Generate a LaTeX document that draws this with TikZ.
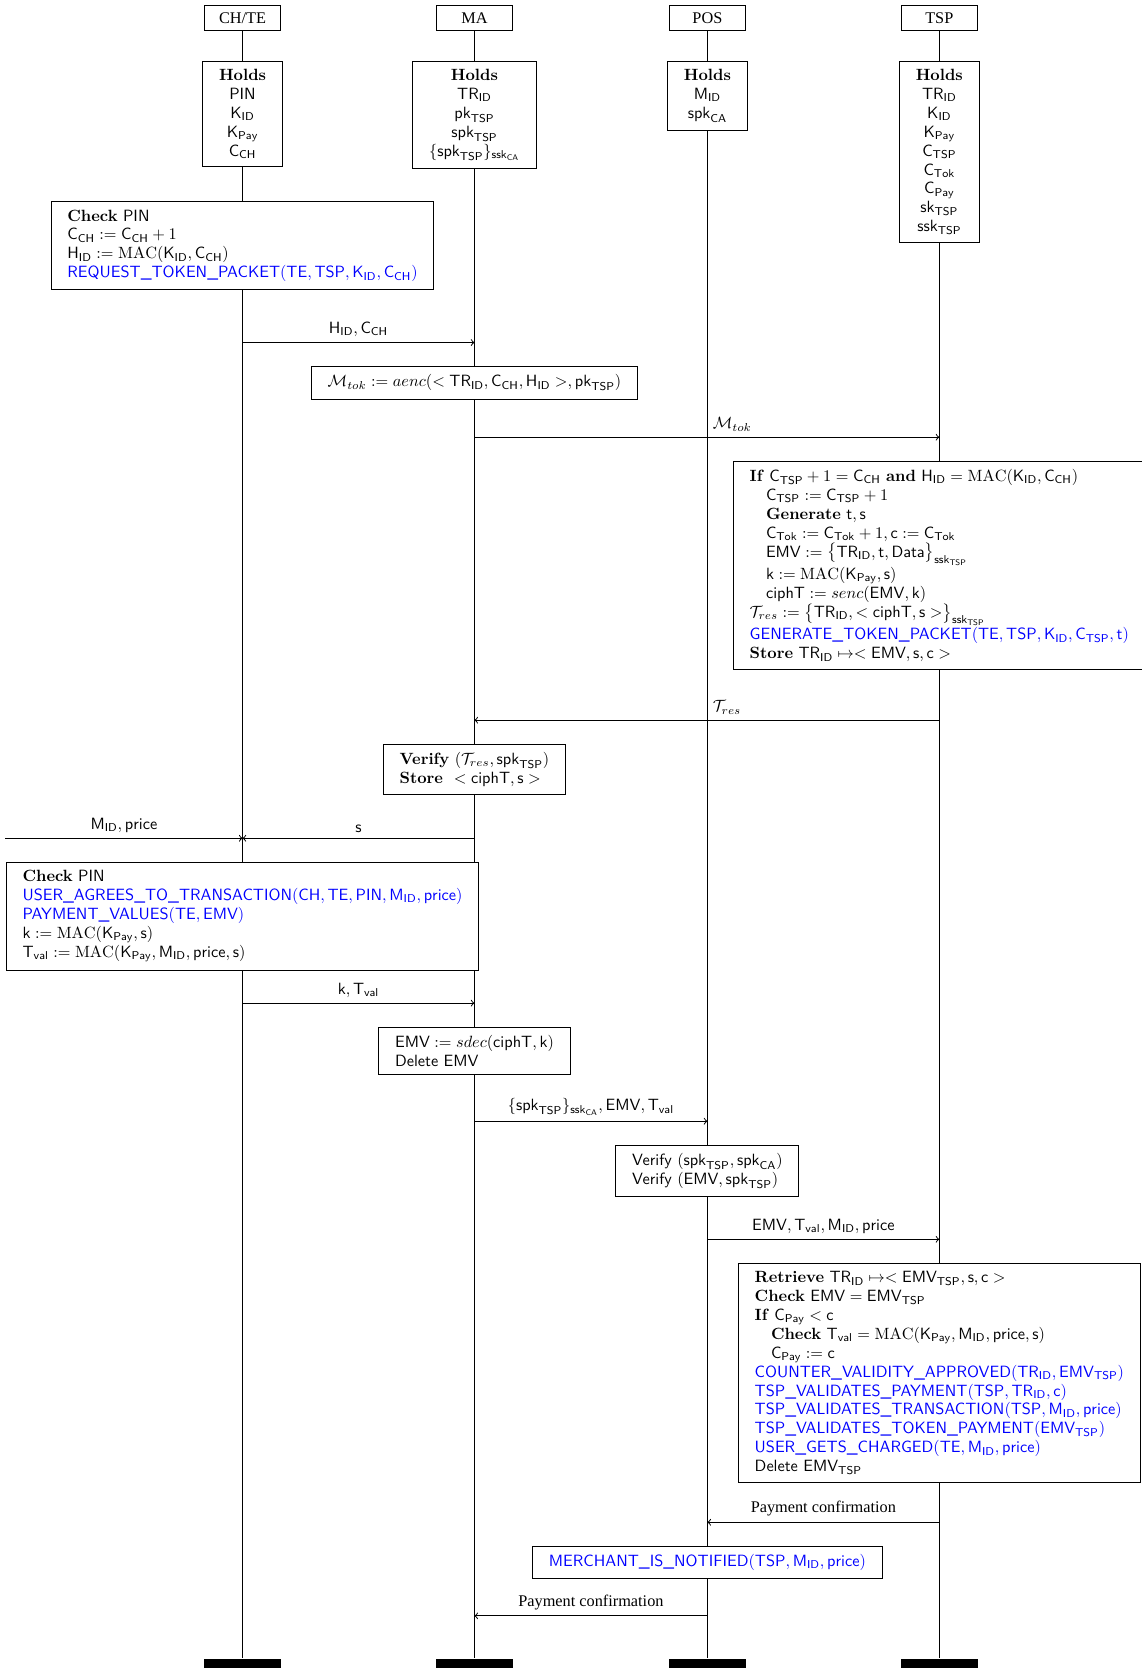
\documentclass[tikz,border=0pt]{standalone}
\usepackage{amsmath}
\usepackage{xcolor}
\usepackage{fontspec}
\newfontfamily\tmsfont{Liberation Serif}
\newcommand{\ix}[2]{\mathsf{#1}_{\mathsf{#2}}}
\newcommand{\evt}[1]{\textcolor{blue}{#1}}

\tikzset{
  party/.style={draw, minimum width=47pt, minimum height=15.5pt, inner sep=0pt, font=\tmsfont},
  holdsbox/.style={draw, fill=white, align=center, anchor=north, inner xsep=10pt, inner ysep=5pt,
    font=\fontsize{10pt}{11.6pt}\selectfont},
  actbox/.style={draw, fill=white, align=left, anchor=north, inner xsep=10pt, inner ysep=5pt,
    font=\fontsize{10pt}{11.6pt}\selectfont},
  msg/.style={->},
  bar/.style={fill=black, minimum width=47pt, minimum height=10pt, inner sep=0pt, anchor=north},
}

\begin{document}
\begin{tikzpicture}[x=0.653pt, y=-0.653pt, line width=0.6pt]
\useasboundingbox (0,0) rectangle (1073,1568);
% parties and lifelines
\node[party] (ch) at (228,17) {CH/TE};
\node[party] (ma) at (446,17) {MA};
\node[party] (pos) at (665,17) {POS};
\node[party] (tsp) at (883,17) {TSP};
\foreach \p/\x in {ch/228, ma/446, pos/665, tsp/883}
  \node[bar] (\p_end) at (\x,1559) {};
\foreach \p in {ch, ma, pos, tsp}
  \draw (\p) -- (\p_end);

% what each party holds
\node[holdsbox] (ch_holds) at (228,57) {\textbf{Holds}\\ $\mathsf{PIN}$\\ $\ix{K}{ID}$\\ $\ix{K}{Pay}$\\ $\ix{C}{CH}$};
\node[holdsbox] (ma_holds) at (446,57) {\textbf{Holds}\\ $\ix{TR}{ID}$\\ $\ix{pk}{TSP}$\\ $\ix{spk}{TSP}$\\ $\{\ix{spk}{TSP}\}_{\ix{ssk}{CA}}$};
\node[holdsbox] (pos_holds) at (665,57) {\textbf{Holds}\\ $\ix{M}{ID}$\\ $\ix{spk}{CA}$};
\node[holdsbox] (tsp_holds) at (883,57) {\textbf{Holds}\\ $\ix{TR}{ID}$\\ $\ix{K}{ID}$\\ $\ix{K}{Pay}$\\ $\ix{C}{TSP}$\\ $\ix{C}{Tok}$\\ $\ix{C}{Pay}$\\ $\ix{sk}{TSP}$\\ $\ix{ssk}{TSP}$};

% token request
\node[actbox] (ch_req) at (228,189) {\textbf{Check} $\mathsf{PIN}$\\
  $\ix{C}{CH} := \ix{C}{CH} + 1$\\
  $\ix{H}{ID} := \mathrm{MAC}(\ix{K}{ID}, \ix{C}{CH})$\\
  \evt{\textsf{REQUEST\_TOKEN\_PACKET}$(\mathsf{TE}, \mathsf{TSP}, \ix{K}{ID}, \ix{C}{CH})$}};
\coordinate (m1) at (0,322);
\draw[msg] (ch |- m1) -- node[above] {$\ix{H}{ID}, \ix{C}{CH}$} (ma |- m1);

\node[actbox] (ma_enc) at (446,344) {$\mathcal{M}_{tok} := aenc(<\ix{TR}{ID}, \ix{C}{CH}, \ix{H}{ID}>, \ix{pk}{TSP})$};
\coordinate (m2) at (0,411);
\draw[msg] (ma |- m2) -- node[above right] {$\mathcal{M}_{tok}$} (tsp |- m2);

% token generation
\node[actbox] (tsp_gen) at (883,433) {\textbf{If} $\ix{C}{TSP} + 1 = \ix{C}{CH}$ \textbf{and} $\ix{H}{ID} = \mathrm{MAC}(\ix{K}{ID}, \ix{C}{CH})$\\
  \hspace{1em}$\ix{C}{TSP} := \ix{C}{TSP} + 1$\\
  \hspace{1em}\textbf{Generate} $\mathsf{t}, \mathsf{s}$\\
  \hspace{1em}$\ix{C}{Tok} := \ix{C}{Tok} + 1, \mathsf{c} := \ix{C}{Tok}$\\
  \hspace{1em}$\mathsf{EMV} := \bigl\{\ix{TR}{ID}, \mathsf{t}, \mathsf{Data}\bigr\}_{\ix{ssk}{TSP}}$\\
  \hspace{1em}$\mathsf{k} := \mathrm{MAC}(\ix{K}{Pay}, \mathsf{s})$\\
  \hspace{1em}$\mathsf{ciphT} := senc(\mathsf{EMV}, \mathsf{k})$\\
  $\mathcal{T}_{res} := \bigl\{\ix{TR}{ID}, <\mathsf{ciphT}, \mathsf{s}>\bigr\}_{\ix{ssk}{TSP}}$\\
  \evt{\textsf{GENERATE\_TOKEN\_PACKET}$(\mathsf{TE}, \mathsf{TSP}, \ix{K}{ID}, \ix{C}{TSP}, \mathsf{t})$}\\
  \textbf{Store} $\ix{TR}{ID} \mapsto <\mathsf{EMV}, \mathsf{s}, \mathsf{c}>$};
\coordinate (m3) at (0,677);
\draw[msg] (tsp |- m3) -- node[above right] {$\mathcal{T}_{res}$} (ma |- m3);

\node[actbox] (ma_store) at (446,699) {\textbf{Verify} $(\mathcal{T}_{res}, \ix{spk}{TSP})$\\
  \textbf{Store} $\ <\mathsf{ciphT}, \mathsf{s}>$};

% payment at the terminal
\coordinate (m4) at (5,788);
\draw[msg] (m4) -- node[above] {$\ix{M}{ID}, \mathsf{price}$} (ch |- m4);
\draw[msg] (ma |- m4) -- node[above] {$\mathsf{s}$} (ch |- m4);

\node[actbox] (ch_pay) at (228,810) {\textbf{Check} $\mathsf{PIN}$\\
  \evt{\textsf{USER\_AGREES\_TO\_TRANSACTION}$(\mathsf{CH}, \mathsf{TE}, \mathsf{PIN}, \ix{M}{ID}, \mathsf{price})$}\\
  \evt{\textsf{PAYMENT\_VALUES}$(\mathsf{TE}, \mathsf{EMV})$}\\
  $\mathsf{k} := \mathrm{MAC}(\ix{K}{Pay}, \mathsf{s})$\\
  $\ix{T}{val} := \mathrm{MAC}(\ix{K}{Pay}, \ix{M}{ID}, \mathsf{price}, \mathsf{s})$};
\coordinate (m5) at (0,943);
\draw[msg] (ch |- m5) -- node[above] {$\mathsf{k}, \ix{T}{val}$} (ma |- m5);

\node[actbox] (ma_dec) at (446,965) {$\mathsf{EMV} := sdec(\mathsf{ciphT}, \mathsf{k})$\\
  \textsf{Delete EMV}};
\coordinate (m6) at (0,1054);
\draw[msg] (ma |- m6) -- node[above] {$\{\ix{spk}{TSP}\}_{\ix{ssk}{CA}}, \mathsf{EMV}, \ix{T}{val}$} (pos |- m6);

\node[actbox] (pos_ver) at (665,1076) {\textsf{Verify} $(\ix{spk}{TSP}, \ix{spk}{CA})$\\
  \textsf{Verify} $(\mathsf{EMV}, \ix{spk}{TSP})$};
\coordinate (m7) at (0,1165);
\draw[msg] (pos |- m7) -- node[above] {$\mathsf{EMV}, \ix{T}{val}, \ix{M}{ID}, \mathsf{price}$} (tsp |- m7);

% validation by the TSP
\node[actbox] (tsp_val) at (883,1187) {\textbf{Retrieve} $\ix{TR}{ID} \mapsto <\ix{EMV}{TSP}, \mathsf{s}, \mathsf{c}>$\\
  \textbf{Check} $\mathsf{EMV} = \ix{EMV}{TSP}$\\
  \textbf{If} $\ix{C}{Pay} < \mathsf{c}$\\
  \hspace{1em}\textbf{Check} $\ix{T}{val} = \mathrm{MAC}(\ix{K}{Pay}, \ix{M}{ID}, \mathsf{price}, \mathsf{s})$\\
  \hspace{1em}$\ix{C}{Pay} := \mathsf{c}$\\
  \evt{\textsf{COUNTER\_VALIDITY\_APPROVED}$(\ix{TR}{ID}, \ix{EMV}{TSP})$}\\
  \evt{\textsf{TSP\_VALIDATES\_PAYMENT}$(\mathsf{TSP}, \ix{TR}{ID}, \mathsf{c})$}\\
  \evt{\textsf{TSP\_VALIDATES\_TRANSACTION}$(\mathsf{TSP}, \ix{M}{ID}, \mathsf{price})$}\\
  \evt{\textsf{TSP\_VALIDATES\_TOKEN\_PAYMENT}$(\ix{EMV}{TSP})$}\\
  \evt{\textsf{USER\_GETS\_CHARGED}$(\mathsf{TE}, \ix{M}{ID}, \mathsf{price})$}\\
  \textsf{Delete} $\ix{EMV}{TSP}$};
\coordinate (m8) at (0,1431);
\draw[msg] (tsp |- m8) -- node[above, font=\tmsfont] {Payment confirmation} (pos |- m8);

\node[actbox] (pos_note) at (665,1453) {\evt{\textsf{MERCHANT\_IS\_NOTIFIED}$(\mathsf{TSP}, \ix{M}{ID}, \mathsf{price})$}};
\coordinate (m9) at (0,1519);
\draw[msg] (pos |- m9) -- node[above, font=\tmsfont] {Payment confirmation} (ma |- m9);
\end{tikzpicture}
\end{document}
